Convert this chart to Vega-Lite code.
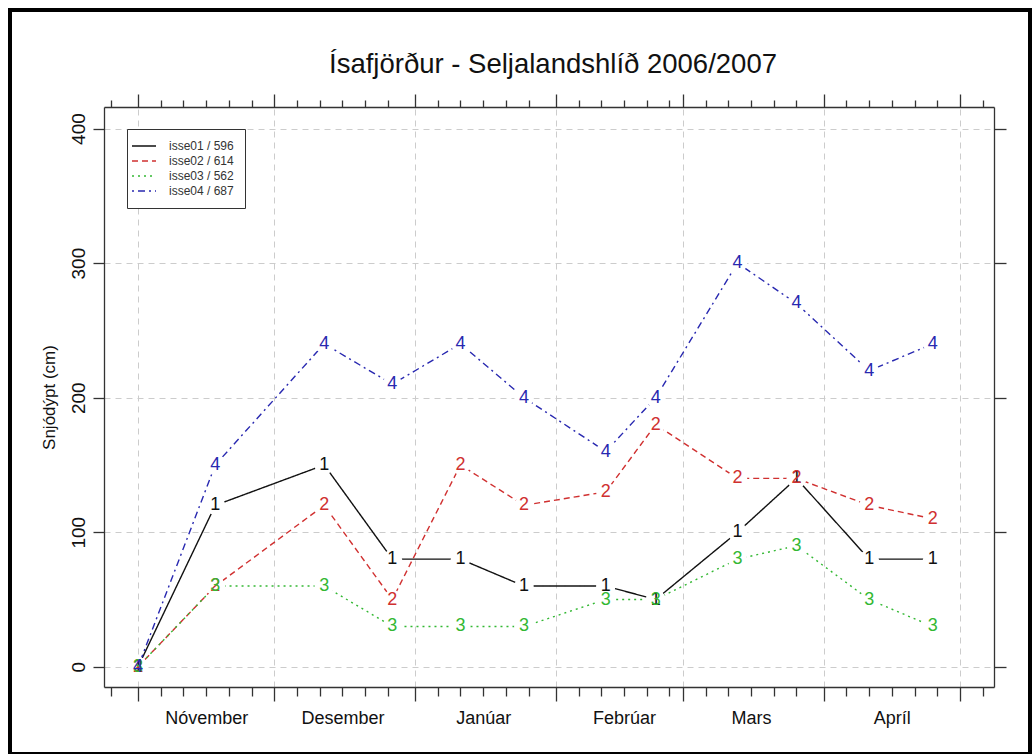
{
  "$schema": "https://vega.github.io/schema/vega-lite/v6.json",
  "width": 1020,
  "height": 744,
  "autosize": "none",
  "padding": {"left": 10, "top": 10, "right": 2, "bottom": 0},
  "background": "white",
  "title": {
    "text": "Ísafjörður - Seljalandshlíð 2006/2007",
    "font": "Liberation Sans",
    "fontSize": 27.5,
    "fontWeight": "normal",
    "color": "#111111",
    "anchor": "middle",
    "offset": -68,
    "dx": 33
  },
  "config": {
    "view": {"stroke": "#000000", "strokeWidth": 4, "fill": "white"},
    "font": "Liberation Sans"
  },
  "data": {
    "values": [
      {"series": "isse01 / 596", "n": "1", "date": "2006-11-01", "depth": 0},
      {"series": "isse01 / 596", "n": "1", "date": "2006-11-18", "depth": 120},
      {"series": "isse01 / 596", "n": "1", "date": "2006-12-12", "depth": 150},
      {"series": "isse01 / 596", "n": "1", "date": "2006-12-27", "depth": 80},
      {"series": "isse01 / 596", "n": "1", "date": "2007-01-11", "depth": 80},
      {"series": "isse01 / 596", "n": "1", "date": "2007-01-25", "depth": 60},
      {"series": "isse01 / 596", "n": "1", "date": "2007-02-12", "depth": 60},
      {"series": "isse01 / 596", "n": "1", "date": "2007-02-23", "depth": 50},
      {"series": "isse01 / 596", "n": "1", "date": "2007-03-13", "depth": 100},
      {"series": "isse01 / 596", "n": "1", "date": "2007-03-26", "depth": 140},
      {"series": "isse01 / 596", "n": "1", "date": "2007-04-11", "depth": 80},
      {"series": "isse01 / 596", "n": "1", "date": "2007-04-25", "depth": 80},
      {"series": "isse02 / 614", "n": "2", "date": "2006-11-01", "depth": 0},
      {"series": "isse02 / 614", "n": "2", "date": "2006-11-18", "depth": 60},
      {"series": "isse02 / 614", "n": "2", "date": "2006-12-12", "depth": 120},
      {"series": "isse02 / 614", "n": "2", "date": "2006-12-27", "depth": 50},
      {"series": "isse02 / 614", "n": "2", "date": "2007-01-11", "depth": 150},
      {"series": "isse02 / 614", "n": "2", "date": "2007-01-25", "depth": 120},
      {"series": "isse02 / 614", "n": "2", "date": "2007-02-12", "depth": 130},
      {"series": "isse02 / 614", "n": "2", "date": "2007-02-23", "depth": 180},
      {"series": "isse02 / 614", "n": "2", "date": "2007-03-13", "depth": 140},
      {"series": "isse02 / 614", "n": "2", "date": "2007-03-26", "depth": 140},
      {"series": "isse02 / 614", "n": "2", "date": "2007-04-11", "depth": 120},
      {"series": "isse02 / 614", "n": "2", "date": "2007-04-25", "depth": 110},
      {"series": "isse03 / 562", "n": "3", "date": "2006-11-01", "depth": 0},
      {"series": "isse03 / 562", "n": "3", "date": "2006-11-18", "depth": 60},
      {"series": "isse03 / 562", "n": "3", "date": "2006-12-12", "depth": 60},
      {"series": "isse03 / 562", "n": "3", "date": "2006-12-27", "depth": 30},
      {"series": "isse03 / 562", "n": "3", "date": "2007-01-11", "depth": 30},
      {"series": "isse03 / 562", "n": "3", "date": "2007-01-25", "depth": 30},
      {"series": "isse03 / 562", "n": "3", "date": "2007-02-12", "depth": 50},
      {"series": "isse03 / 562", "n": "3", "date": "2007-02-23", "depth": 50},
      {"series": "isse03 / 562", "n": "3", "date": "2007-03-13", "depth": 80},
      {"series": "isse03 / 562", "n": "3", "date": "2007-03-26", "depth": 90},
      {"series": "isse03 / 562", "n": "3", "date": "2007-04-11", "depth": 50},
      {"series": "isse03 / 562", "n": "3", "date": "2007-04-25", "depth": 30},
      {"series": "isse04 / 687", "n": "4", "date": "2006-11-01", "depth": 0},
      {"series": "isse04 / 687", "n": "4", "date": "2006-11-18", "depth": 150},
      {"series": "isse04 / 687", "n": "4", "date": "2006-12-12", "depth": 240},
      {"series": "isse04 / 687", "n": "4", "date": "2006-12-27", "depth": 210},
      {"series": "isse04 / 687", "n": "4", "date": "2007-01-11", "depth": 240},
      {"series": "isse04 / 687", "n": "4", "date": "2007-01-25", "depth": 200},
      {"series": "isse04 / 687", "n": "4", "date": "2007-02-12", "depth": 160},
      {"series": "isse04 / 687", "n": "4", "date": "2007-02-23", "depth": 200},
      {"series": "isse04 / 687", "n": "4", "date": "2007-03-13", "depth": 300},
      {"series": "isse04 / 687", "n": "4", "date": "2007-03-26", "depth": 270},
      {"series": "isse04 / 687", "n": "4", "date": "2007-04-11", "depth": 220},
      {"series": "isse04 / 687", "n": "4", "date": "2007-04-25", "depth": 240}
    ]
  },
  "resolve": {"axis": {"x": "independent", "y": "independent"}},
  "layer": [
    {
      "mark": {"type": "line", "strokeWidth": 1.4},
      "encoding": {
        "x": {
          "field": "date",
          "type": "temporal",
          "scale": {
            "type": "utc",
            "domain": [
              {"year": 2006, "month": 10, "date": 24, "hours": 12, "utc": true},
              {"year": 2007, "month": 5, "date": 8, "hours": 12, "utc": true}
            ],
            "range": [94, 984],
            "nice": false
          },
          "axis": {
            "orient": "bottom",
            "offset": -67,
            "title": null,
            "grid": false,
            "values": [
              {"year": 2006, "month": 10, "date": 26, "utc": true},
              {"year": 2006, "month": 11, "date": 1, "utc": true},
              {"year": 2006, "month": 11, "date": 6, "utc": true},
              {"year": 2006, "month": 11, "date": 11, "utc": true},
              {"year": 2006, "month": 11, "date": 16, "utc": true},
              {"year": 2006, "month": 11, "date": 21, "utc": true},
              {"year": 2006, "month": 11, "date": 26, "utc": true},
              {"year": 2006, "month": 12, "date": 1, "utc": true},
              {"year": 2006, "month": 12, "date": 6, "utc": true},
              {"year": 2006, "month": 12, "date": 11, "utc": true},
              {"year": 2006, "month": 12, "date": 16, "utc": true},
              {"year": 2006, "month": 12, "date": 21, "utc": true},
              {"year": 2006, "month": 12, "date": 26, "utc": true},
              {"year": 2007, "month": 1, "date": 1, "utc": true},
              {"year": 2007, "month": 1, "date": 6, "utc": true},
              {"year": 2007, "month": 1, "date": 11, "utc": true},
              {"year": 2007, "month": 1, "date": 16, "utc": true},
              {"year": 2007, "month": 1, "date": 21, "utc": true},
              {"year": 2007, "month": 1, "date": 26, "utc": true},
              {"year": 2007, "month": 2, "date": 1, "utc": true},
              {"year": 2007, "month": 2, "date": 6, "utc": true},
              {"year": 2007, "month": 2, "date": 11, "utc": true},
              {"year": 2007, "month": 2, "date": 16, "utc": true},
              {"year": 2007, "month": 2, "date": 21, "utc": true},
              {"year": 2007, "month": 2, "date": 26, "utc": true},
              {"year": 2007, "month": 3, "date": 1, "utc": true},
              {"year": 2007, "month": 3, "date": 6, "utc": true},
              {"year": 2007, "month": 3, "date": 11, "utc": true},
              {"year": 2007, "month": 3, "date": 16, "utc": true},
              {"year": 2007, "month": 3, "date": 21, "utc": true},
              {"year": 2007, "month": 3, "date": 26, "utc": true},
              {"year": 2007, "month": 4, "date": 1, "utc": true},
              {"year": 2007, "month": 4, "date": 6, "utc": true},
              {"year": 2007, "month": 4, "date": 11, "utc": true},
              {"year": 2007, "month": 4, "date": 16, "utc": true},
              {"year": 2007, "month": 4, "date": 21, "utc": true},
              {"year": 2007, "month": 4, "date": 26, "utc": true},
              {"year": 2007, "month": 5, "date": 1, "utc": true},
              {"year": 2007, "month": 5, "date": 6, "utc": true}
            ],
            "domainColor": "#333333",
            "domainWidth": 1.3,
            "tickColor": "#333333",
            "tickWidth": 1.3,
            "tickSize": {"condition": {"test": "utcdate(datum.value) == 1", "value": 14}, "value": 9},
            "labelExpr": "utcdate(datum.value) == 16 ? ['Janúar','Febrúar','Mars','Apríl','','','','','','','Nóvember','Desember'][utcmonth(datum.value)] : ''",
            "labelFont": "Liberation Sans",
            "labelFontSize": 18,
            "labelColor": "#111111",
            "labelPadding": 13,
            "labelOverlap": false,
            "labelFlush": false,
            "labelBound": false
          }
        },
        "y": {
          "field": "depth",
          "type": "quantitative",
          "scale": {"domain": [-15, 416], "range": [677, 97], "nice": false, "zero": false},
          "axis": {
            "orient": "left",
            "offset": -94,
            "title": "Snjódýpt (cm)",
            "titleFont": "Liberation Sans",
            "titleFontSize": 17,
            "titleFontWeight": "normal",
            "titleColor": "#111111",
            "titlePadding": 11,
            "values": [0, 100, 200, 300, 400],
            "grid": true,
            "gridColor": "#cccccc",
            "gridDash": [6, 5],
            "gridWidth": 1,
            "domainColor": "#333333",
            "domainWidth": 1.3,
            "tickColor": "#333333",
            "tickWidth": 1.3,
            "tickSize": 11,
            "labelAngle": 270,
            "labelAlign": "center",
            "labelBaseline": "bottom",
            "labelFont": "Liberation Sans",
            "labelFontSize": 19,
            "labelColor": "#111111",
            "labelPadding": 5
          }
        },
        "color": {
          "field": "series",
          "type": "nominal",
          "scale": {
            "domain": ["isse01 / 596", "isse02 / 614", "isse03 / 562", "isse04 / 687"],
            "range": ["#111111", "#d03030", "#33b833", "#2828b0"]
          },
          "legend": {
            "orient": "none",
            "legendX": 117,
            "legendY": 119,
            "title": null,
            "strokeColor": "#333333",
            "fillColor": "white",
            "padding": 11,
            "symbolType": "M-2.4,0H2.4",
            "symbolSize": 100,
            "symbolStrokeWidth": 1.3,
            "labelFont": "Liberation Sans",
            "labelFontSize": 12,
            "labelColor": "#333333",
            "labelOffset": 19,
            "rowPadding": 3
          }
        },
        "strokeDash": {
          "field": "series",
          "type": "nominal",
          "scale": {
            "domain": ["isse01 / 596", "isse02 / 614", "isse03 / 562", "isse04 / 687"],
            "range": [[1, 0], [6, 4], [2, 4], [2, 4, 7, 4]]
          },
          "legend": {
            "orient": "none",
            "legendX": 117,
            "legendY": 119,
            "title": null,
            "strokeColor": "#333333",
            "fillColor": "white",
            "padding": 11,
            "symbolType": "M-2.4,0H2.4",
            "symbolSize": 100,
            "symbolStrokeWidth": 1.3,
            "labelFont": "Liberation Sans",
            "labelFontSize": 12,
            "labelColor": "#333333",
            "labelOffset": 19,
            "rowPadding": 3
          }
        }
      }
    },
    {
      "mark": {"type": "point", "shape": "circle", "filled": true, "fill": "white", "stroke": null, "opacity": 1, "fillOpacity": 1, "size": 380},
      "encoding": {
        "x": {
          "field": "date",
          "type": "temporal",
          "axis": {
            "orient": "top",
            "offset": -97,
            "title": null,
            "labels": false,
            "values": [
              {"year": 2006, "month": 10, "date": 26, "utc": true},
              {"year": 2006, "month": 11, "date": 1, "utc": true},
              {"year": 2006, "month": 11, "date": 6, "utc": true},
              {"year": 2006, "month": 11, "date": 11, "utc": true},
              {"year": 2006, "month": 11, "date": 16, "utc": true},
              {"year": 2006, "month": 11, "date": 21, "utc": true},
              {"year": 2006, "month": 11, "date": 26, "utc": true},
              {"year": 2006, "month": 12, "date": 1, "utc": true},
              {"year": 2006, "month": 12, "date": 6, "utc": true},
              {"year": 2006, "month": 12, "date": 11, "utc": true},
              {"year": 2006, "month": 12, "date": 16, "utc": true},
              {"year": 2006, "month": 12, "date": 21, "utc": true},
              {"year": 2006, "month": 12, "date": 26, "utc": true},
              {"year": 2007, "month": 1, "date": 1, "utc": true},
              {"year": 2007, "month": 1, "date": 6, "utc": true},
              {"year": 2007, "month": 1, "date": 11, "utc": true},
              {"year": 2007, "month": 1, "date": 16, "utc": true},
              {"year": 2007, "month": 1, "date": 21, "utc": true},
              {"year": 2007, "month": 1, "date": 26, "utc": true},
              {"year": 2007, "month": 2, "date": 1, "utc": true},
              {"year": 2007, "month": 2, "date": 6, "utc": true},
              {"year": 2007, "month": 2, "date": 11, "utc": true},
              {"year": 2007, "month": 2, "date": 16, "utc": true},
              {"year": 2007, "month": 2, "date": 21, "utc": true},
              {"year": 2007, "month": 2, "date": 26, "utc": true},
              {"year": 2007, "month": 3, "date": 1, "utc": true},
              {"year": 2007, "month": 3, "date": 6, "utc": true},
              {"year": 2007, "month": 3, "date": 11, "utc": true},
              {"year": 2007, "month": 3, "date": 16, "utc": true},
              {"year": 2007, "month": 3, "date": 21, "utc": true},
              {"year": 2007, "month": 3, "date": 26, "utc": true},
              {"year": 2007, "month": 4, "date": 1, "utc": true},
              {"year": 2007, "month": 4, "date": 6, "utc": true},
              {"year": 2007, "month": 4, "date": 11, "utc": true},
              {"year": 2007, "month": 4, "date": 16, "utc": true},
              {"year": 2007, "month": 4, "date": 21, "utc": true},
              {"year": 2007, "month": 4, "date": 26, "utc": true},
              {"year": 2007, "month": 5, "date": 1, "utc": true},
              {"year": 2007, "month": 5, "date": 6, "utc": true}
            ],
            "grid": true,
            "gridColor": "#cccccc",
            "gridDash": [6, 5],
            "gridWidth": 1,
            "gridOpacity": {"condition": {"test": "utcdate(datum.value) == 1", "value": 1}, "value": 0},
            "domainColor": "#333333",
            "domainWidth": 1.3,
            "tickColor": "#333333",
            "tickWidth": 1.3,
            "tickSize": {"condition": {"test": "utcdate(datum.value) == 1", "value": 13}, "value": 7}
          }
        },
        "y": {
          "field": "depth",
          "type": "quantitative",
          "axis": {
            "orient": "right",
            "offset": -36,
            "title": null,
            "labels": false,
            "grid": false,
            "values": [0, 100, 200, 300, 400],
            "domainColor": "#333333",
            "domainWidth": 1.3,
            "tickColor": "#333333",
            "tickWidth": 1.3,
            "tickSize": 12
          }
        }
      }
    },
    {
      "mark": {"type": "text", "font": "Liberation Sans", "fontSize": 18, "align": "center", "baseline": "middle"},
      "encoding": {
        "x": {"field": "date", "type": "temporal", "axis": null},
        "y": {"field": "depth", "type": "quantitative", "axis": null},
        "text": {"field": "n"},
        "color": {"field": "series", "type": "nominal", "legend": null}
      }
    }
  ]
}
